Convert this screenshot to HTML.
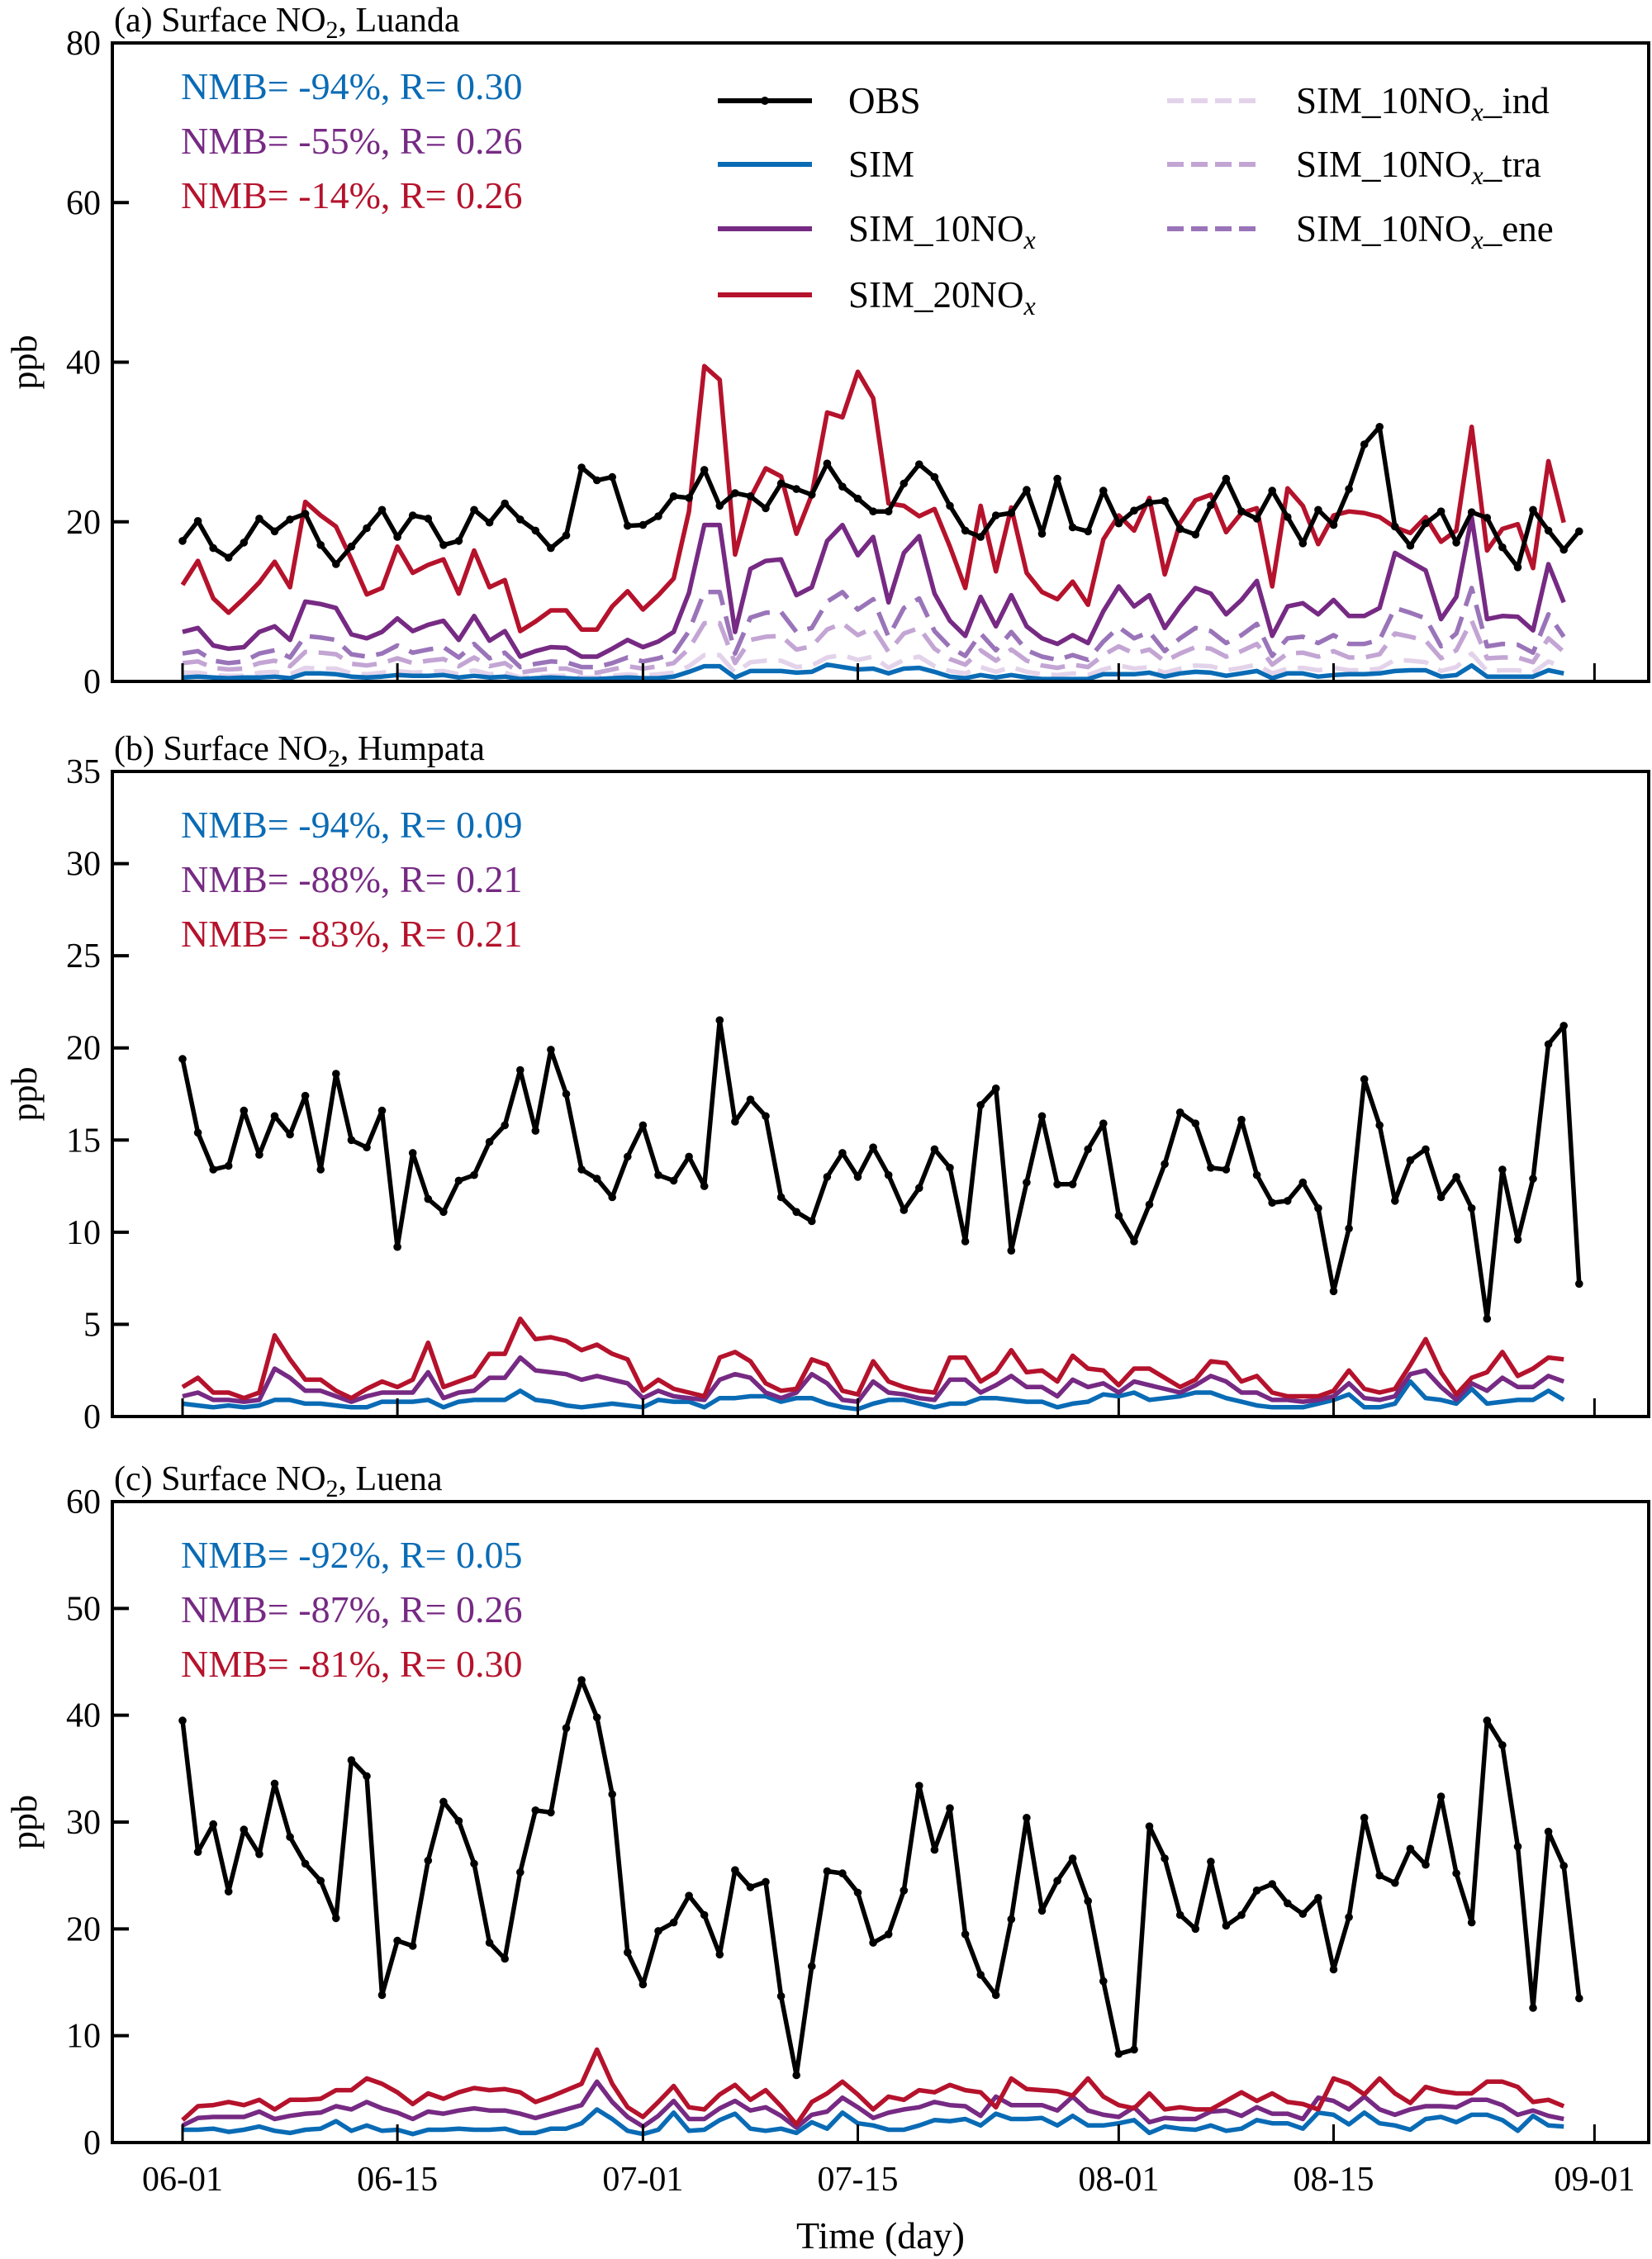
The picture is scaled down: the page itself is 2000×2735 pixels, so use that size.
<!DOCTYPE html>
<html><head><meta charset="utf-8">
<style>
html,body{margin:0;padding:0;background:#fff;}
svg{display:block;}
svg text{font-family:"Liberation Serif","DejaVu Serif","Times New Roman",serif;}
</style></head>
<body>
<svg id="chart" width="2000" height="2735" viewBox="0 0 2000 2735" xmlns="http://www.w3.org/2000/svg" font-family="'Liberation Serif', 'DejaVu Serif', serif">
<rect x="0" y="0" width="2000" height="2735" fill="#fff"/>
</svg>
<script>
// ---------- data ----------
const dateTicks = ["06-01","06-15","07-01","07-15","08-01","08-15","09-01"];
const dateTickDays = [0,14,30,44,61,75,92];

const obsA = [17.6,20.1,16.7,15.5,17.4,20.4,18.8,20.3,21.0,17.1,14.7,16.9,19.2,21.5,18.1,20.8,20.4,17.1,17.6,21.5,19.9,22.3,20.3,18.9,16.7,18.3,26.8,25.2,25.6,19.5,19.6,20.7,23.2,23.0,26.5,22.0,23.6,23.2,21.7,24.8,24.1,23.4,27.3,24.4,22.9,21.3,21.3,24.8,27.2,25.6,22.0,18.9,18.1,20.8,21.1,24.0,18.5,25.4,19.3,18.8,23.9,19.8,21.4,22.4,22.6,19.1,18.4,22.1,25.4,21.3,20.4,23.9,20.6,17.3,21.5,19.6,24.1,29.7,31.9,19.4,17.0,19.8,21.3,17.4,21.2,20.5,16.8,14.3,21.5,18.9,16.5,18.8];
const simA = [0.5,0.6,0.5,0.4,0.5,0.5,0.6,0.4,1.0,1.0,0.9,0.6,0.5,0.6,0.8,0.7,0.7,0.8,0.5,0.7,0.5,0.6,0.3,0.4,0.5,0.4,0.3,0.3,0.4,0.5,0.4,0.4,0.6,1.2,1.9,1.9,0.5,1.3,1.3,1.3,1.1,1.2,2.1,1.8,1.5,1.6,1.0,1.6,1.7,1.2,0.6,0.4,0.8,0.5,0.8,0.5,0.3,0.3,0.3,0.3,0.9,0.9,0.9,1.1,0.6,1.0,1.2,1.1,0.7,1.0,1.3,0.4,1.0,1.0,0.6,0.8,0.9,0.9,1.0,1.3,1.4,1.4,0.6,0.8,2.0,0.6,0.6,0.6,0.6,1.4,1.0];
const sim10A = [6.2,6.7,4.5,4.1,4.3,6.2,6.9,5.2,10.0,9.7,9.2,5.9,5.4,6.2,7.9,6.3,7.1,7.6,5.2,8.2,5.1,6.3,3.1,3.8,4.3,4.2,3.1,3.1,4.1,5.2,4.3,5.0,6.2,11.1,19.6,19.6,6.2,14.1,15.1,15.3,10.8,11.8,17.6,19.6,15.8,18.1,9.9,16.1,18.2,11.0,7.6,5.7,10.6,6.9,10.8,6.9,5.4,4.7,5.8,4.8,8.8,11.9,9.4,10.8,6.7,9.4,11.7,11.0,8.4,10.2,12.6,5.7,9.4,9.8,8.4,10.2,8.2,8.2,9.2,16.1,15.0,13.9,7.8,10.6,20.6,7.8,8.2,8.1,6.4,14.7,9.9];
const sim20A = [12.1,15.1,10.4,8.6,10.4,12.4,15.0,11.8,22.5,20.8,19.4,15.3,10.9,11.7,16.9,13.6,14.6,15.3,11.0,16.4,11.8,12.7,6.3,7.5,8.9,8.9,6.5,6.5,9.4,11.3,9.0,10.8,12.9,21.3,39.5,37.8,15.9,23.0,26.7,25.7,18.5,23.4,33.7,33.1,38.8,35.5,22.3,22.0,20.7,21.6,16.9,11.7,22.0,13.8,21.8,13.6,11.2,10.3,12.5,9.6,17.8,20.8,18.9,23.0,13.4,19.9,22.7,23.4,18.7,21.1,21.7,11.9,24.2,22.0,17.2,20.8,21.3,21.1,20.6,19.3,18.6,20.6,17.5,18.9,31.9,16.4,19.1,19.7,14.2,27.6,19.9];
const sim10EneA = [3.5,3.8,2.6,2.3,2.5,3.5,3.9,3.0,5.7,5.5,5.2,3.4,3.1,3.5,4.5,3.6,4.0,4.3,3.0,4.7,2.9,3.6,1.8,2.2,2.5,2.4,1.8,1.8,2.3,3.0,2.5,2.9,3.5,6.3,11.2,11.2,3.5,8.0,8.6,8.7,6.2,6.7,10.0,11.2,9.0,10.3,5.6,9.2,10.4,6.3,4.3,3.2,6.0,3.9,6.2,3.9,3.1,2.7,3.3,2.7,5.0,6.8,5.4,6.2,3.8,5.4,6.7,6.3,4.8,5.8,7.2,3.2,5.4,5.6,4.8,5.8,4.7,4.7,5.2,9.2,8.6,7.9,4.4,6.0,11.7,4.4,4.7,4.6,3.6,8.4,5.6];
const sim10TraA = [2.3,2.5,1.7,1.5,1.6,2.3,2.6,1.9,3.7,3.6,3.4,2.2,2.0,2.3,2.9,2.3,2.6,2.8,1.9,3.0,1.9,2.3,1.1,1.4,1.6,1.6,1.1,1.1,1.5,1.9,1.6,1.9,2.3,4.1,7.3,7.3,2.3,5.2,5.6,5.7,4.0,4.4,6.5,7.3,5.8,6.7,3.7,6.0,6.7,4.1,2.8,2.1,3.9,2.6,4.0,2.6,2.0,1.7,2.1,1.8,3.3,4.4,3.5,4.0,2.5,3.5,4.3,4.1,3.1,3.8,4.7,2.1,3.5,3.6,3.1,3.8,3.0,3.0,3.4,6.0,5.6,5.1,2.9,3.9,7.6,2.9,3.0,3.0,2.4,5.4,3.7];
const sim10IndA = [1.1,1.1,0.8,0.7,0.7,1.1,1.2,0.9,1.7,1.6,1.6,1.0,0.9,1.1,1.3,1.1,1.2,1.3,0.9,1.4,0.9,1.1,0.5,0.6,0.7,0.7,0.5,0.5,0.7,0.9,0.7,0.9,1.1,1.9,3.3,3.3,1.1,2.4,2.6,2.6,1.8,2.0,3.0,3.3,2.7,3.1,1.7,2.7,3.1,1.9,1.3,1.0,1.8,1.2,1.8,1.2,0.9,0.8,1.0,0.8,1.5,2.0,1.6,1.8,1.1,1.6,2.0,1.9,1.4,1.7,2.1,1.0,1.6,1.7,1.4,1.7,1.4,1.4,1.6,2.7,2.6,2.4,1.3,1.8,3.5,1.3,1.4,1.4,1.1,2.5,1.7];

const obsB = [19.4,15.4,13.4,13.6,16.6,14.2,16.3,15.3,17.4,13.4,18.6,15.0,14.6,16.6,9.2,14.3,11.8,11.1,12.8,13.1,14.9,15.8,18.8,15.5,19.9,17.5,13.4,12.9,11.9,14.1,15.8,13.1,12.8,14.1,12.5,21.5,16.0,17.2,16.3,11.9,11.1,10.6,13.0,14.3,13.0,14.6,13.1,11.2,12.4,14.5,13.5,9.5,16.9,17.8,9.0,12.7,16.3,12.6,12.6,14.5,15.9,10.9,9.5,11.5,13.7,16.5,15.9,13.5,13.4,16.1,13.1,11.6,11.7,12.7,11.3,6.8,10.2,18.3,15.8,11.7,13.9,14.5,11.9,13.0,11.3,5.3,13.4,9.6,12.9,20.2,21.2,7.2];
const simB = [0.7,0.6,0.5,0.6,0.5,0.6,0.9,0.9,0.7,0.7,0.6,0.5,0.5,0.8,0.8,0.8,0.9,0.5,0.8,0.9,0.9,0.9,1.4,0.9,0.8,0.6,0.5,0.6,0.7,0.6,0.5,0.9,0.8,0.8,0.5,1.0,1.0,1.1,1.1,0.8,1.0,1.0,0.7,0.5,0.4,0.7,0.9,0.9,0.7,0.5,0.7,0.7,1.0,1.0,0.9,0.8,0.8,0.5,0.7,0.8,1.2,1.1,1.3,0.9,1.0,1.1,1.3,1.3,1.0,0.8,0.6,0.5,0.5,0.5,0.7,0.9,1.2,0.5,0.5,0.7,1.9,1.0,0.9,0.7,1.5,0.7,0.8,0.9,0.9,1.4,0.9];
const sim10B = [1.1,1.3,0.9,0.9,0.8,0.9,2.6,2.1,1.4,1.4,1.1,0.8,1.1,1.3,1.3,1.3,2.4,1.0,1.3,1.4,2.1,2.1,3.2,2.5,2.4,2.3,2.0,2.2,2.0,1.8,1.0,1.4,1.1,1.0,0.9,2.0,2.3,2.1,1.3,1.0,1.3,2.3,1.8,0.9,0.8,1.9,1.3,1.2,1.0,0.9,2.0,2.0,1.3,1.7,2.2,1.6,1.6,1.1,2.0,1.6,1.8,1.3,1.9,1.7,1.5,1.3,1.7,2.2,1.9,1.3,1.3,0.9,0.9,0.8,0.9,1.1,1.8,1.0,0.9,1.1,2.3,2.5,1.6,0.9,1.8,1.4,2.1,1.6,1.6,2.2,1.9];
const sim20B = [1.6,2.1,1.3,1.3,1.0,1.3,4.4,3.1,2.0,2.0,1.4,1.0,1.5,1.9,1.6,2.0,4.0,1.6,1.9,2.2,3.4,3.4,5.3,4.2,4.3,4.1,3.6,3.9,3.4,3.1,1.4,2.0,1.5,1.3,1.1,3.2,3.5,3.0,1.8,1.4,1.5,3.1,2.8,1.4,1.2,3.0,1.9,1.6,1.4,1.3,3.2,3.2,1.9,2.4,3.6,2.4,2.5,1.9,3.3,2.6,2.5,1.7,2.6,2.6,2.1,1.6,2.0,3.0,2.9,1.9,2.2,1.3,1.1,1.1,1.1,1.4,2.5,1.5,1.3,1.5,2.8,4.2,2.4,1.2,2.1,2.4,3.5,2.2,2.6,3.2,3.1];

const obsC = [39.5,27.2,29.8,23.5,29.3,27.0,33.6,28.6,26.1,24.5,21.0,35.8,34.3,13.8,18.9,18.4,26.4,31.9,30.1,26.1,18.7,17.2,25.3,31.1,30.9,38.8,43.3,39.8,32.6,17.8,14.8,19.8,20.6,23.1,21.3,17.6,25.5,23.9,24.4,13.7,6.3,16.5,25.4,25.2,23.4,18.7,19.5,23.6,33.4,27.4,31.3,19.5,15.7,13.8,20.9,30.4,21.7,24.5,26.6,22.6,15.1,8.3,8.7,29.6,26.6,21.3,20.0,26.3,20.3,21.3,23.6,24.2,22.4,21.4,22.9,16.2,21.1,30.4,25.0,24.3,27.5,26.0,32.4,25.2,20.6,39.5,37.2,27.7,12.6,29.1,25.9,13.5];
const simC = [1.2,1.2,1.3,1.0,1.2,1.5,1.1,0.9,1.2,1.3,2.0,1.1,1.6,1.1,1.2,0.8,1.2,1.2,1.3,1.2,1.2,1.3,0.9,0.9,1.3,1.3,1.8,3.1,2.2,1.1,0.8,1.2,2.8,1.1,1.2,2.1,2.7,1.3,1.1,1.3,0.9,1.9,1.3,2.8,1.8,1.6,1.2,1.2,1.6,2.1,2.0,2.2,1.6,2.7,2.2,2.2,2.3,1.6,2.5,1.6,1.6,1.8,2.1,0.9,1.5,1.3,1.2,1.6,1.1,1.3,2.1,1.8,1.8,1.3,2.8,2.6,1.7,2.8,1.8,1.6,1.2,2.2,2.4,1.9,2.6,2.6,2.1,1.1,2.5,1.6,1.5];
const sim10C = [1.6,2.3,2.4,2.4,2.4,2.9,2.2,2.5,2.7,2.8,3.4,3.1,3.8,3.2,2.8,2.2,2.9,2.7,3.0,3.2,3.0,3.0,2.7,2.3,2.7,3.1,3.5,5.7,3.8,2.4,1.5,2.5,3.9,2.2,2.2,3.2,3.9,3.0,3.3,2.5,1.4,2.6,2.9,4.2,3.3,2.3,2.8,3.1,3.3,3.8,3.5,3.4,2.5,4.3,3.5,3.5,3.5,3.0,4.3,3.0,2.6,2.4,3.3,1.9,2.3,2.2,2.2,2.9,3.0,2.5,3.3,2.7,2.7,2.2,4.2,3.9,3.1,4.3,3.1,2.6,3.1,3.4,3.4,3.3,4.0,4.0,3.5,2.6,3.0,2.5,2.2];
const sim20C = [2.1,3.4,3.5,3.8,3.5,4.0,3.1,4.0,4.0,4.1,4.9,4.9,6.0,5.5,4.7,3.6,4.6,4.1,4.7,5.1,4.9,5.0,4.7,3.8,4.3,4.9,5.5,8.7,5.5,3.3,2.4,3.8,5.3,3.3,3.1,4.5,5.4,4.0,4.9,3.4,1.7,3.8,4.6,5.7,4.5,3.1,4.3,4.0,4.9,4.7,5.4,4.9,4.7,3.3,6.0,5.0,4.9,4.8,4.4,6.0,4.3,3.5,3.2,4.6,3.1,3.3,3.1,3.1,3.9,4.7,3.9,4.6,3.8,3.6,3.1,6.0,5.5,4.5,6.0,4.6,3.7,5.2,4.8,4.6,4.6,5.7,5.7,5.2,3.8,4.0,3.4];

const yTicksA = [0,20,40,60,80];
const yTicksB = [0,5,10,15,20,25,30,35];
const yTicksC = [0,10,20,30,40,50,60];

// ---------- drawing ----------
const NS = "http://www.w3.org/2000/svg";
const svg = document.getElementById('chart');
const FONT = "'Liberation Serif', 'DejaVu Serif', serif";
const X0 = 136, X1 = 1996;
const DAY0 = 221, DAYPX = 18.58;
const COL = {obs:"#000000", sim:"#0a6bb5", s10:"#762a83", s20:"#b5122c", ind:"#e3d3ea", tra:"#c3a5d4", ene:"#9a74b9"};

function el(tag, attrs, parent){
  const e = document.createElementNS(NS, tag);
  for (const k in attrs) e.setAttribute(k, attrs[k]);
  if (tag === 'text') e.setAttribute('font-family', FONT);
  (parent||svg).appendChild(e);
  return e;
}
function xScale(day){ return DAY0 + DAYPX*day; }

function drawSeries(g, vals, yS, color, name, dash, width){
  const pts = vals.map((v,i)=> xScale(i).toFixed(1)+","+yS(v).toFixed(1)).join(" ");
  const p = el('polyline', {points:pts, fill:"none", stroke:color, "stroke-width":width||5.5, "stroke-linejoin":"round"}, g);
  if (dash) p.setAttribute('stroke-dasharray', dash);
  
  
  return p;
}

function drawPanel(cfg){
  const g = el('g', {});
  
  
  const top = cfg.top, bot = cfg.bot, ymax = cfg.ticks[cfg.ticks.length-1];
  const yS = v => bot - (bot-top)*v/ymax;

  const sg = el('g', {}, g);
  
  
  if (cfg.ind) drawSeries(sg, cfg.ind, yS, COL.ind, 'sim-10nox-ind-line', '30 14', 5.5);
  if (cfg.tra) drawSeries(sg, cfg.tra, yS, COL.tra, 'sim-10nox-tra-line', '30 14', 5.5);
  if (cfg.ene) drawSeries(sg, cfg.ene, yS, COL.ene, 'sim-10nox-ene-line', '30 14', 5.5);
  drawSeries(sg, cfg.sim, yS, COL.sim, 'sim-line', null, 5.5);
  drawSeries(sg, cfg.s10, yS, COL.s10, 'sim-10nox-line', null, 5.5);
  drawSeries(sg, cfg.s20, yS, COL.s20, 'sim-20nox-line', null, 5.5);
  drawSeries(sg, cfg.obs, yS, COL.obs, 'obs-line', null, 5.5);
  cfg.obs.forEach((v,i)=>{
    const c = el('circle', {cx:xScale(i).toFixed(1), cy:yS(v).toFixed(1), r:4.8, fill:"#000"}, sg);
    
    
  });

  const fr = el('rect', {x:X0, y:top, width:X1-X0, height:bot-top, fill:"none", stroke:"#000", "stroke-width":4}, g);
  
  

  cfg.ticks.forEach(t=>{
    const y = yS(t);
    const tk = el('line', {x1:X0, x2:X0+20, y1:y, y2:y, stroke:"#000", "stroke-width":4}, g);
    
    
    const tl = el('text', {x:X0-14, y:y+14, "text-anchor":"end", "font-size":42, fill:"#000"}, g);
    tl.textContent = String(t);
    
    
  });
  dateTickDays.forEach((d,i)=>{
    const x = xScale(d);
    const tk = el('line', {x1:x, x2:x, y1:bot, y2:bot-22, stroke:"#000", "stroke-width":3}, g);
    
    
    if (cfg.xlabels){
      const tl = el('text', {x:x, y:bot+58, "text-anchor":"middle", "font-size":42, fill:"#000"}, g);
      tl.textContent = dateTicks[i];
      
      
    }
  });
  const yl = el('text', {x:0, y:0, "text-anchor":"middle", "font-size":44, fill:"#000", transform:`translate(44,${(top+bot)/2}) rotate(-90)`}, g);
  yl.textContent = "ppb";
  
  
  const tt = el('text', {x:138, y:top-14, "font-size":42, fill:"#000"}, g);
  tt.innerHTML = cfg.title1 + 'Surface NO<tspan font-size="30" dy="8">2</tspan><tspan dy="-8">, ' + cfg.site + '</tspan>';
  
  
  const cols = [COL.sim, COL.s10, COL.s20];
  cfg.stats.forEach((s,i)=>{
    const st = el('text', {x:219, y:cfg.statY + i*66, "font-size":46, fill:cols[i]}, g);
    st.textContent = s;
    
    
  });
  return g;
}

drawPanel({key:'luanda', top:52, bot:825, ticks:yTicksA, obs:obsA, sim:simA, s10:sim10A, s20:sim20A, ene:sim10EneA, tra:sim10TraA, ind:sim10IndA,
  title1:'(a) ', site:'Luanda', statY:120, stats:["NMB= -94%, R= 0.30","NMB= -55%, R= 0.26","NMB= -14%, R= 0.26"]});
drawPanel({key:'humpata', top:934, bot:1715, ticks:yTicksB, obs:obsB, sim:simB, s10:sim10B, s20:sim20B,
  title1:'(b) ', site:'Humpata', statY:1014, stats:["NMB= -94%, R= 0.09","NMB= -88%, R= 0.21","NMB= -83%, R= 0.21"]});
drawPanel({key:'luena', top:1818, bot:2594, ticks:yTicksC, obs:obsC, sim:simC, s10:sim10C, s20:sim20C, xlabels:true,
  title1:'(c) ', site:'Luena', statY:1898, stats:["NMB= -92%, R= 0.05","NMB= -87%, R= 0.26","NMB= -81%, R= 0.30"]});

const xt = el('text', {x:1066, y:2722, "text-anchor":"middle", "font-size":46, fill:"#000"});
xt.textContent = "Time (day)";



const lg = el('g', {});


const legItems = [
  {x:869, tx:1027, y:122, c:COL.obs, lab:'OBS', dash:null, dot:true, n:'legend-entry-obs'},
  {x:869, tx:1027, y:199, c:COL.sim, lab:'SIM', dash:null, n:'legend-entry-sim'},
  {x:869, tx:1027, y:277, c:COL.s10, lab:'SIM_10NO', sub:'x', dash:null, n:'legend-entry-sim-10nox'},
  {x:869, tx:1027, y:357, c:COL.s20, lab:'SIM_20NO', sub:'x', dash:null, n:'legend-entry-sim-20nox'},
  {x:1413, tx:1569, y:122, c:COL.ind, lab:'SIM_10NO', sub:'x', post:'_ind', dash:'20 9', n:'legend-entry-ind'},
  {x:1413, tx:1569, y:199, c:COL.tra, lab:'SIM_10NO', sub:'x', post:'_tra', dash:'20 9', n:'legend-entry-tra'},
  {x:1413, tx:1569, y:277, c:COL.ene, lab:'SIM_10NO', sub:'x', post:'_ene', dash:'20 9', n:'legend-entry-ene'}
];
legItems.forEach(it=>{
  const g = el('g', {}, lg);
  
  
  const ln = el('line', {x1:it.x, x2:it.x+(it.x>1000?107:114), y1:it.y, y2:it.y, stroke:it.c, "stroke-width":6}, g);
  if (it.dash) ln.setAttribute('stroke-dasharray', it.dash);
  if (it.dot) el('circle', {cx:it.x+57, cy:it.y, r:5, fill:'#000'}, g);
  const t = el('text', {x:it.tx, y:it.y+15, "font-size":45, fill:"#000"}, g);
  let h = it.lab;
  if (it.sub) h += '<tspan font-size="32" font-style="italic" dy="9">' + it.sub + '</tspan>';
  if (it.post) h += '<tspan dy="-9">' + it.post + '</tspan>';
  t.innerHTML = h;
});
</script>
</body></html>
